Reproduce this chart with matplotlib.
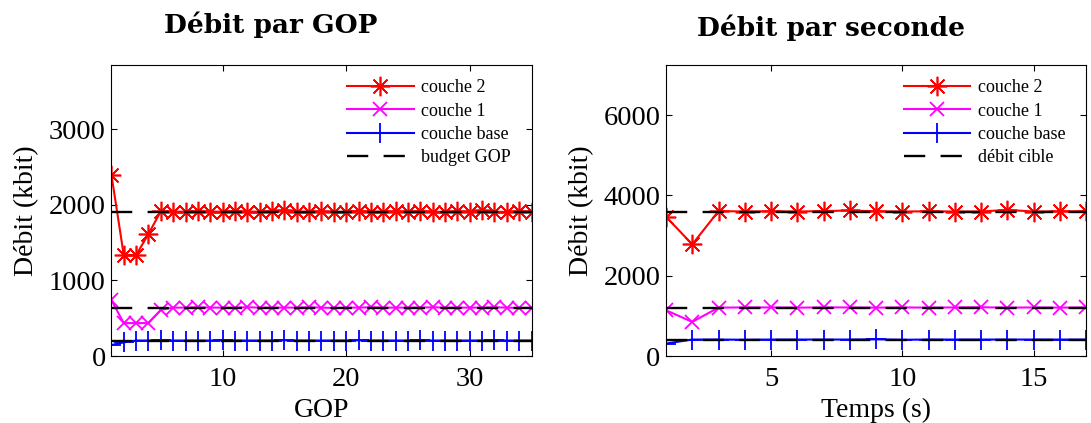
import matplotlib
matplotlib.use("Agg")
import matplotlib.pyplot as plt

plt.rcParams["font.family"] = ["Liberation Serif", "DejaVu Serif"]

# --- left panel: débit par GOP ---
gop = list(range(1, 36))
gop_c2 = [2400, 1335, 1335, 1615] + [1915, 1910, 1910, 1915, 1910, 1910, 1915, 1910, 1910, 1915,
                                     1930, 1910, 1910, 1915, 1905, 1910, 1920, 1910, 1910, 1915,
                                     1910, 1915, 1910, 1905, 1915, 1910, 1925, 1910, 1905, 1915, 1905]
gop_c1 = [740, 435, 435, 435, 610] + [640, 640, 645, 640, 640, 640, 645, 640, 640, 640,
                                      640, 645, 640, 635, 640, 640, 645, 640, 640, 640,
                                      640, 645, 640, 640, 640, 640, 645, 640, 635, 640]
gop_base = [145, 180] + [205, 205, 208, 205, 205, 205, 205, 208, 205, 205,
                         205, 205, 208, 205, 205, 205, 205, 205, 208, 205,
                         205, 205, 205, 208, 205, 205, 205, 205, 205, 208,
                         205, 205, 205]
gop_budget = [1910, 640, 205]

# --- right panel: débit par seconde ---
sec = list(range(1, 18))
sec_c2 = [3470, 2780, 3610, 3600, 3605, 3600, 3610, 3625, 3605, 3600, 3605, 3600, 3600, 3640, 3600, 3605, 3605]
sec_c1 = [1140, 850, 1205, 1210, 1210, 1205, 1210, 1210, 1205, 1210, 1205, 1210, 1215, 1205, 1210, 1205, 1210]
sec_base = [310, 410, 410, 405, 410, 410, 410, 410, 415, 405, 410, 410, 410, 410, 410, 410, 410]
sec_budget = [3600, 1200, 400]

W, H = 1091, 423
fig = plt.figure(figsize=(W / 100, H / 100), dpi=100)

def px_axes(x0, x1, y0, y1):
    return fig.add_axes([x0 / W, 1 - y1 / H, (x1 - x0) / W, (y1 - y0) / H])

# matlab-style asterisk: + and x together
STAR = (8, 2, 0)

def panel(ax, x, c2, c1, base, budget, budget_label, xlim, ylim, xticks, yticks,
          xlabel, title, title_x, title_y):
    ax.plot(x, c2, color="red", marker=STAR, ms=14, mew=1.2, lw=1.5, label="couche 2")
    ax.plot(x, c1, color="magenta", marker="x", ms=10, mew=1.3, lw=1.5, label="couche 1")
    ax.plot(x, base, color="blue", marker="+", ms=14, mew=1.3, lw=1.5, label="couche base")
    for i, b in enumerate(budget):
        ax.plot([x[0], x[-1]], [b, b], color="black", lw=1.7, dashes=(9, 6.5),
                label=budget_label if i == 0 else None)
    ax.set_xlim(*xlim)
    ax.set_ylim(*ylim)
    ax.set_xticks(xticks)
    ax.set_yticks(yticks)
    ax.tick_params(direction="in", top=True, right=True, length=4, width=0.8, labelsize=20.5)
    ax.tick_params(axis="x", pad=8)
    ax.tick_params(axis="y", pad=4)
    ax.set_xlabel(xlabel, fontsize=20, labelpad=4)
    ax.set_ylabel("Débit (kbit)", fontsize=20, labelpad=7)
    ax.set_title(title, fontsize=19, fontweight="bold", family="DejaVu Serif",
                 x=title_x, y=title_y)
    ax.legend(loc="upper right", frameon=False, fontsize=13, handlelength=3.7,
              handletextpad=0.4, labelspacing=0.35, borderaxespad=0.4,
              bbox_to_anchor=(0.985, 1.0))

axL = px_axes(111.4, 531.5, 65, 356)
panel(axL, gop, gop_c2, gop_c1, gop_base, gop_budget, "budget GOP",
      (1, 35), (0, 3850), [10, 20, 30], [0, 1000, 2000, 3000], "GOP",
      "Débit par GOP", 0.378, 1.082)

axR = px_axes(666, 1086, 65, 356)
panel(axR, sec, sec_c2, sec_c1, sec_base, sec_budget, "débit cible",
      (1, 17), (0, 7250), [5, 10, 15], [0, 2000, 4000, 6000], "Temps (s)",
      "Débit par seconde", 0.393, 1.071)

fig.savefig("out.png", dpi=100)
